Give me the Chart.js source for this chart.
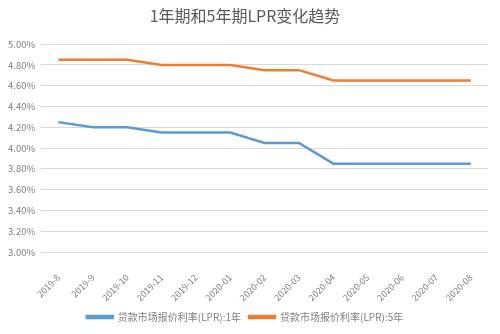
<!DOCTYPE html>
<html>
<head>
<meta charset="utf-8">
<script src="https://cdn.jsdelivr.net/npm/chart.js@4/dist/chart.umd.min.js"></script>
<style>
  html, body { margin: 0; padding: 0; background: #fff; }
  #wrap { width: 500px; height: 334px; }
</style>
</head>
<body>
<div id="wrap"><canvas id="grafico"></canvas></div>
<script>
// dati
let mesi = ["2019-8","2019-9","2019-10","2019-11","2019-12","2020-01","2020-02","2020-03","2020-04","2020-05","2020-06","2020-07","2020-08"]
let lpr1 = [4.25,4.20,4.20,4.15,4.15,4.15,4.05,4.05,3.85,3.85,3.85,3.85,3.85]
let lpr5 = [4.85,4.85,4.85,4.80,4.80,4.80,4.75,4.75,4.65,4.65,4.65,4.65,4.65]
let nomi = ["贷款市场报价利率(LPR):1年","贷款市场报价利率(LPR):5年"]
let titolo = "1年期和5年期LPR变化趋势"

const font = "'Noto Sans CJK SC', 'Noto Sans', sans-serif"
Chart.defaults.font.family = font
Chart.defaults.color = '#595959'

let ctx = document.getElementById("grafico").getContext('2d')
let chart = new Chart(ctx, {
    type: 'line',
    data: {
        labels: mesi,
        datasets: [{
            label: nomi[0],
            data: lpr1,
            borderColor: '#5b9bd5',
            backgroundColor: '#5b9bd5',
            borderWidth: 2.5,
            pointRadius: 0,
            tension: 0
        }, {
            label: nomi[1],
            data: lpr5,
            borderColor: '#ed7d31',
            backgroundColor: '#ed7d31',
            borderWidth: 2.5,
            pointRadius: 0,
            tension: 0
        }]
    },
    options: {
        responsive: true,
        maintainAspectRatio: false,
        animation: false,
        layout: { padding: { left: 2, right: 12, top: 6, bottom: 2 } },
        plugins: {
            title: {
                display: true,
                text: titolo,
                font: { size: 16, weight: 'normal' },
                color: '#595959',
                padding: { top: 0, bottom: 19 }
            },
            legend: {
                position: 'bottom',
                labels: {
                    boxWidth: 26,
                    boxHeight: 2,
                    font: { size: 10 },
                    color: '#7f7f7f',
                    padding: 8
                }
            },
            tooltip: { enabled: false }
        },
        scales: {
            x: {
                offset: true,
                grid: { display: false },
                border: { display: false },
                afterFit: s => { s.height = 52 },
                ticks: {
                    maxRotation: 45,
                    minRotation: 45,
                    font: { size: 9 },
                    color: '#7f7f7f',
                    padding: 12
                }
            },
            y: {
                min: 3,
                max: 5,
                grid: { color: '#d9d9d9', drawTicks: false },
                border: { display: false },
                ticks: {
                    stepSize: 0.2,
                    padding: 6,
                    font: { size: 9.5 },
                    color: '#7f7f7f',
                    callback: v => v.toFixed(2) + '%'
                }
            }
        }
    }
})
</script>
</body>
</html>
